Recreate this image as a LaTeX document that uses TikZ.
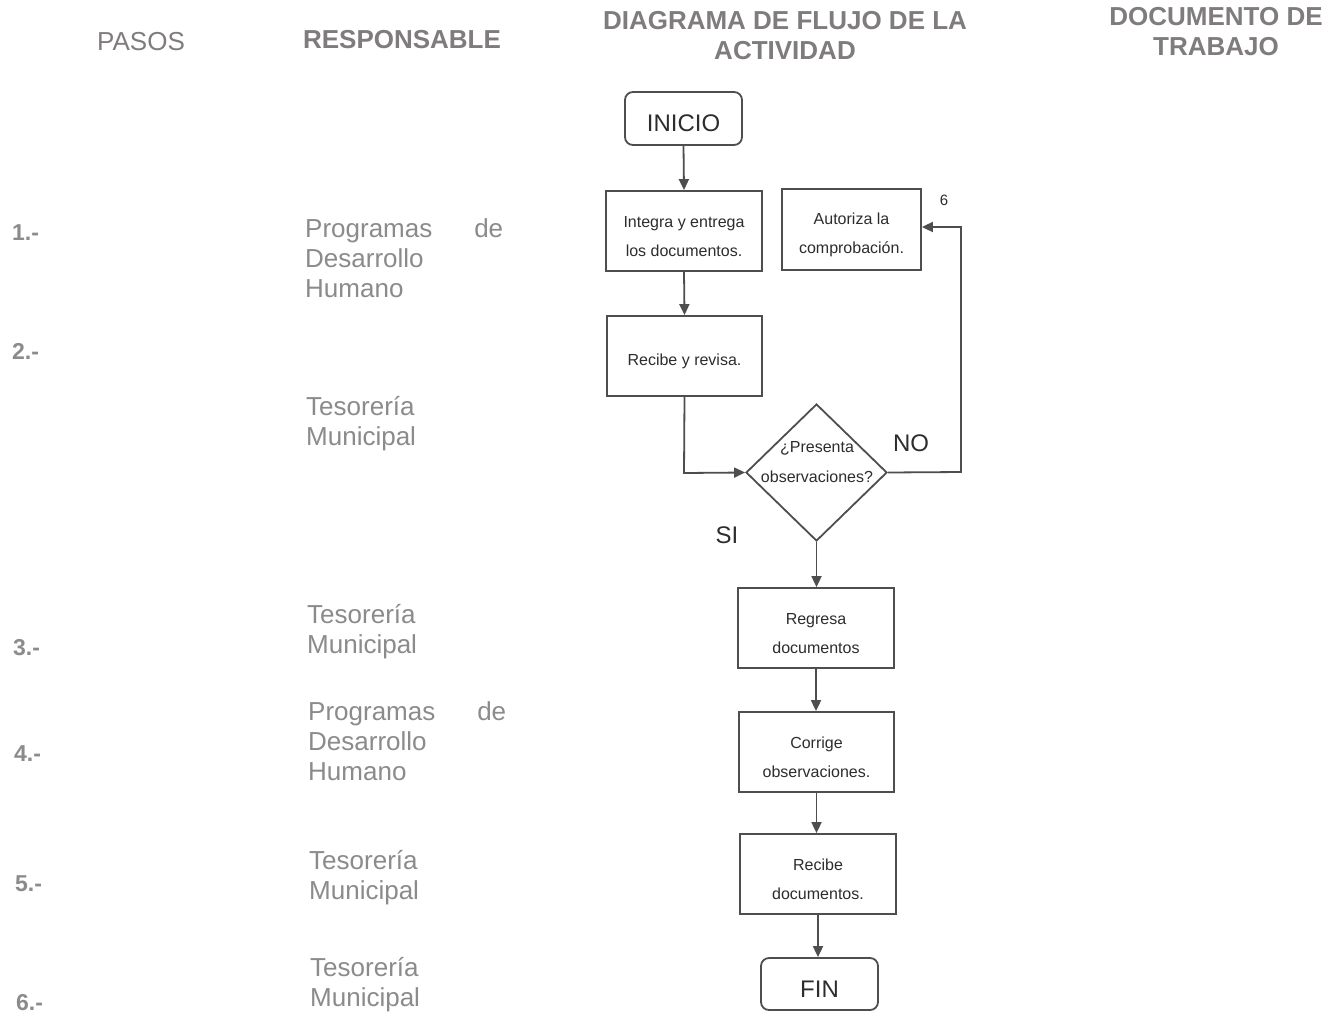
\documentclass[tikz,border=0pt]{standalone}
\usepackage{fontspec}
\setmainfont{Liberation Sans}
\usetikzlibrary{shapes.geometric,arrows.meta}
\definecolor{headgray}{RGB}{128,124,126}
\definecolor{colgray}{RGB}{140,138,140}
\definecolor{linegray}{RGB}{78,78,78}
\definecolor{txtdark}{RGB}{45,45,45}
\begin{document}
\begin{tikzpicture}[x=1pt,y=-1pt,
  head/.style={font=\fontsize{26}{30}\selectfont\bfseries, text=headgray, align=center, inner sep=0},
  stepnum/.style={font=\fontsize{23}{28}\selectfont\bfseries, text=colgray, anchor=west, inner sep=0},
  resp/.style={font=\fontsize{26}{30}\selectfont, text=colgray, anchor=north west, align=left, inner sep=0},
  framebox/.style={draw=linegray, line width=1.8pt, text=txtdark, align=center,
     font=\fontsize{16}{29}\selectfont, inner sep=0},
  % the struts lower the text block a little inside its frame
  procbox/.style={framebox, execute at begin node={\rule{0pt}{50.5pt}}},
  procone/.style={framebox, execute at begin node={\rule{0pt}{21.5pt}}},
  termbox/.style={draw=linegray, line width=1.8pt, rounded corners=8pt, text=txtdark,
     font=\fontsize{24}{28}\selectfont, inner sep=0,
     execute at begin node={\rule{0pt}{27pt}}},
  decbox/.style={diamond, draw=linegray, line width=1.8pt, inner sep=0},
  flow/.style={draw=linegray, line width=1.8pt, -{Triangle[length=11pt,width=10pt]}},
  lbl/.style={font=\fontsize{24}{28}\selectfont, text=txtdark, inner sep=0}
]
\useasboundingbox[fill=white] (0,0) rectangle (1335,1015);

% column headings
\node[head, font=\fontsize{26}{30}\selectfont] (hpasos) at (141,42) {PASOS};
\node[head] (hresp) at (402,40) {RESPONSABLE};
\node[head] (hdiag) at (785,36) {DIAGRAMA DE FLUJO DE LA\\ACTIVIDAD};
\node[head] (hdoc) at (1216,32) {DOCUMENTO DE\\TRABAJO};

% step numbers
\node[stepnum] (n1) at (12,233) {1.-};
\node[stepnum] (n2) at (12,351) {2.-};
\node[stepnum] (n3) at (13,648) {3.-};
\node[stepnum] (n4) at (14,754) {4.-};
\node[stepnum] (n5) at (15,884) {5.-};
\node[stepnum] (n6) at (16,1003) {6.-};

% responsible areas
\node[resp] (r1) at (305,218) {\makebox[198pt][l]{Programas\hfill de}\\Desarrollo\\Humano};
\node[resp] (r2) at (306,396) {Tesorería\\Municipal};
\node[resp] (r3) at (307,604) {Tesorería\\Municipal};
\node[resp] (r4) at (308,701) {\makebox[198pt][l]{Programas\hfill de}\\Desarrollo\\Humano};
\node[resp] (r5) at (309,850) {Tesorería\\Municipal};
\node[resp] (r6) at (310,957) {Tesorería\\Municipal};

% flowchart
\node[termbox, minimum width=117pt, minimum height=53pt] (inicio) at (683.5,118.5) {INICIO};
\node[procbox, minimum width=156pt, minimum height=80pt] (integra) at (684,231) {Integra y entrega\\los documentos.};
\node[procbox, minimum width=139pt, minimum height=81pt] (autoriza) at (851.5,229.5) {Autoriza la\\comprobación.};
\node[font=\fontsize{15}{18}\selectfont, text=txtdark, inner sep=0] (seis) at (944,200) {6};
\node[procone, minimum width=155pt, minimum height=80pt] (revisa) at (684.5,356) {Recibe y revisa.};
\node[decbox, minimum width=141pt, minimum height=137pt] (obs) at (816.5,472.5) {};
\node[text=txtdark, align=center, font=\fontsize{16}{30}\selectfont, inner sep=0]
      (obstxt) at (817,462) {¿Presenta\\observaciones?};
\node[procbox, minimum width=156pt, minimum height=80pt] (regresa) at (816,628) {Regresa\\documentos};
\node[procbox, minimum width=155pt, minimum height=80pt] (corrige) at (816.5,752) {Corrige\\observaciones.};
\node[procbox, minimum width=156pt, minimum height=80pt] (recibe) at (818,874) {Recibe\\documentos.};
\node[termbox, minimum width=117pt, minimum height=52pt] (fin) at (819.5,984) {FIN};

\node[lbl] (lno) at (911,443) {NO};
\node[lbl] (lsi) at (727,535) {SI};

\coordinate (cnr1) at (684,473);
\coordinate (cnr2) at (961,472);
\coordinate (cnr3) at (961,227);

\draw[flow] (inicio.south) -- (integra.north);
\draw[flow] (integra.south) -- (revisa.north);
\draw[flow] (revisa.south) -- (cnr1) -- (obs.west);
\draw[flow] (obs.east) -- (cnr2) -- (cnr3) -- (autoriza.east |- cnr3);
\draw[flow] (obs.south) -- (obs.south |- regresa.north);
\draw[flow] (regresa.south) -- (regresa.south |- corrige.north);
\draw[flow] (corrige.south) -- (corrige.south |- recibe.north);
\draw[flow] (recibe.south) -- (recibe.south |- fin.north);
\end{tikzpicture}
\end{document}
